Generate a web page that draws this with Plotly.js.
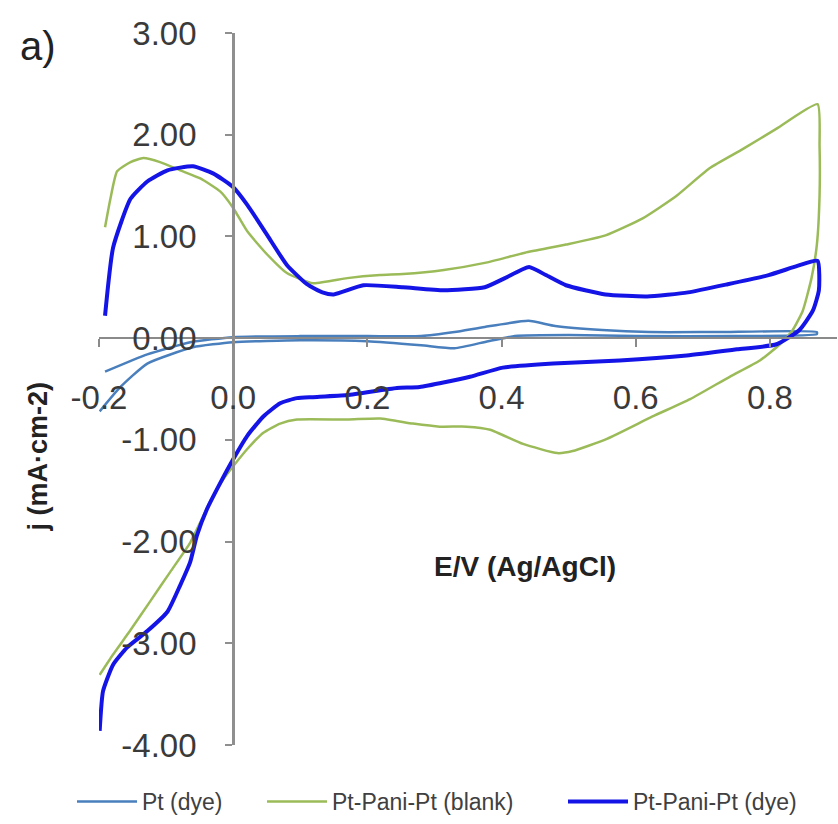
<!DOCTYPE html>
<html>
<head>
<meta charset="utf-8">
<script src="https://cdn.plot.ly/plotly-3.0.1.min.js"></script>
<style>html,body{margin:0;padding:0;background:#fff;}#chart{width:838px;height:824px;}</style>
</head>
<body>
<div id="chart"></div>
<script>
// Pt (dye): anodic branch then cathodic branch
const ptDyeE = [-0.191,-0.128,-0.064,0.0,0.1,0.2,0.28,0.33,0.375,0.44,0.48,0.55,0.62,0.72,0.87,
                0.87,0.75,0.6,0.5,0.42,0.38,0.33,0.28,0.2,0.1,0.0,-0.06,-0.128,-0.168,-0.199];
const ptDyeJ = [-0.33,-0.16,-0.04,0.01,0.02,0.02,0.02,0.06,0.11,0.17,0.12,0.08,0.06,0.06,0.06,
                0.04,0.02,0.02,0.03,0.02,-0.03,-0.10,-0.07,-0.03,-0.02,-0.04,-0.09,-0.25,-0.48,-0.72];

// Pt-Pani-Pt (blank)
const blankE = [-0.191,-0.183,-0.173,-0.153,-0.134,-0.109,-0.079,-0.049,-0.019,0.000,0.021,0.051,0.080,0.119,0.170,0.219,0.253,0.314,0.375,0.435,0.496,0.555,0.611,0.661,0.710,0.760,0.810,0.871,
                0.874,0.874,0.870,0.862,0.849,0.834,0.815,0.785,0.740,0.681,0.625,0.557,0.506,0.483,0.432,0.383,0.348,0.308,0.268,0.219,0.170,0.095,0.070,0.045,0.021,0.000,-0.015,-0.034,-0.049,-0.064,-0.094,-0.124,-0.153,-0.179,-0.199];
const blankJ = [1.09,1.37,1.64,1.73,1.77,1.73,1.65,1.57,1.44,1.28,1.05,0.82,0.64,0.54,0.59,0.62,0.63,0.67,0.74,0.84,0.92,1.01,1.18,1.40,1.67,1.86,2.06,2.30,
                1.89,1.40,0.92,0.59,0.27,0.08,-0.06,-0.22,-0.38,-0.60,-0.77,-0.99,-1.11,-1.13,-1.04,-0.90,-0.87,-0.87,-0.84,-0.79,-0.80,-0.80,-0.84,-0.93,-1.09,-1.26,-1.39,-1.60,-1.81,-2.01,-2.30,-2.59,-2.87,-3.11,-3.31];

// Pt-Pani-Pt (dye)
const dyeE = [-0.191,-0.179,-0.153,-0.128,-0.098,-0.060,-0.030,-0.001,0.021,0.051,0.080,0.110,0.133,0.150,0.194,0.253,0.314,0.375,0.405,0.441,0.466,0.496,0.555,0.617,0.678,0.737,0.798,0.841,0.871,
              0.873,0.864,0.844,0.810,0.751,0.676,0.576,0.477,0.402,0.353,0.278,0.244,0.170,0.119,0.095,0.070,0.045,0.021,0.000,-0.019,-0.039,-0.054,-0.064,-0.079,-0.098,-0.128,-0.158,-0.179,-0.194,-0.199];
const dyeJ = [0.22,0.89,1.37,1.54,1.65,1.69,1.62,1.49,1.31,1.01,0.72,0.53,0.45,0.43,0.52,0.50,0.47,0.50,0.59,0.70,0.62,0.52,0.43,0.41,0.45,0.53,0.62,0.71,0.76,
              0.47,0.27,0.08,-0.06,-0.11,-0.17,-0.22,-0.25,-0.29,-0.38,-0.48,-0.49,-0.56,-0.58,-0.59,-0.64,-0.77,-0.96,-1.19,-1.42,-1.68,-1.94,-2.20,-2.43,-2.69,-2.88,-3.04,-3.21,-3.47,-3.86];

const seriesNames = ["Pt (dye)", "Pt-Pani-Pt (blank)", "Pt-Pani-Pt (dye)"];
const xTickVals = [-0.2, 0.0, 0.2, 0.4, 0.6, 0.8];
const xTickText = ["-0.2", "0.0", "0.2", "0.4", "0.6", "0.8"];
const yTickVals = [-4, -3, -2, -1, 0, 1, 2, 3];
const yTickText = ["-4.00", "-3.00", "-2.00", "-1.00", "0.00", "1.00", "2.00", "3.00"];
const xTitle = "E/V (Ag/AgCl)";
const yTitle = "j (mA·cm-2)";
const panelLabel = "a)";

const FONT = "Liberation Sans, Arial, sans-serif";
const L = 99, R = 1, T = 33, B = 73, W = 838, H = 824;
const pw = W - L - R, ph = H - T - B;
const px2paperX = p => (p - L) / pw;
const px2paperY = p => (H - B - p) / ph;

const traces = [
  {x: ptDyeE, y: ptDyeJ, name: seriesNames[0], mode: "lines", line: {color: "#4a7fbd", width: 2.5, shape: "spline", smoothing: 0.5}, legend: "legend"},
  {x: blankE, y: blankJ, name: seriesNames[1], mode: "lines", line: {color: "#9bbb59", width: 2.5, shape: "spline", smoothing: 0.5}, legend: "legend2"},
  {x: dyeE, y: dyeJ, name: seriesNames[2], mode: "lines", line: {color: "#1414e6", width: 4, shape: "spline", smoothing: 0.5}, legend: "legend3"}
];

const legBase = {orientation: "h", yanchor: "middle", xanchor: "left", y: px2paperY(808),
  font: {family: FONT, size: 23, color: "#404040"}, bgcolor: "rgba(0,0,0,0)", itemwidth: 60};

const layout = {
  width: W, height: H,
  margin: {l: L, r: R, t: T, b: B, pad: 0},
  paper_bgcolor: "#ffffff", plot_bgcolor: "#ffffff",
  font: {family: FONT, color: "#3a3a3a"},
  showlegend: true,
  legend: Object.assign({}, legBase, {x: px2paperX(72)}),
  legend2: Object.assign({}, legBase, {x: px2paperX(262)}),
  legend3: Object.assign({}, legBase, {x: px2paperX(563)}),
  xaxis: {
    range: [-0.2, 0.9], anchor: "free", position: 4 / 7,
    showline: true, linecolor: "#8a8a8a", linewidth: 2,
    ticks: "outside", ticklen: 8, tickwidth: 2, tickcolor: "#8a8a8a",
    tickvals: xTickVals, ticktext: xTickText,
    tickfont: {family: FONT, size: 33, color: "#3a3a3a"},
    ticklabelstandoff: 22,
    showgrid: false, zeroline: false, fixedrange: true
  },
  yaxis: {
    range: [-4, 3], anchor: "free", position: 0.2 / 1.1,
    showline: true, linecolor: "#8f8f8f", linewidth: 2.5,
    ticks: "outside", ticklen: 7, tickwidth: 2, tickcolor: "#8f8f8f",
    tickvals: yTickVals, ticktext: yTickText,
    tickfont: {family: FONT, size: 33, color: "#3a3a3a"},
    ticklabelstandoff: 22,
    showgrid: false, zeroline: false, fixedrange: true
  },
  annotations: [
    {text: panelLabel, xref: "paper", yref: "paper", x: px2paperX(38), y: px2paperY(46), xanchor: "center", yanchor: "middle", showarrow: false, font: {family: FONT, size: 40, color: "#222222"}},
    {text: "<b>" + xTitle + "</b>", xref: "paper", yref: "paper", x: px2paperX(525), y: px2paperY(571), xanchor: "center", yanchor: "middle", showarrow: false, font: {family: FONT, size: 28, color: "#222222"}},
    {text: "<b>" + yTitle + "</b>", xref: "paper", yref: "paper", x: px2paperX(38), y: px2paperY(460), xanchor: "center", yanchor: "middle", textangle: -90, showarrow: false, font: {family: FONT, size: 27, color: "#222222"}}
  ]
};

Plotly.newPlot("chart", traces, layout, {displayModeBar: false, staticPlot: true});
</script>
</body>
</html>
